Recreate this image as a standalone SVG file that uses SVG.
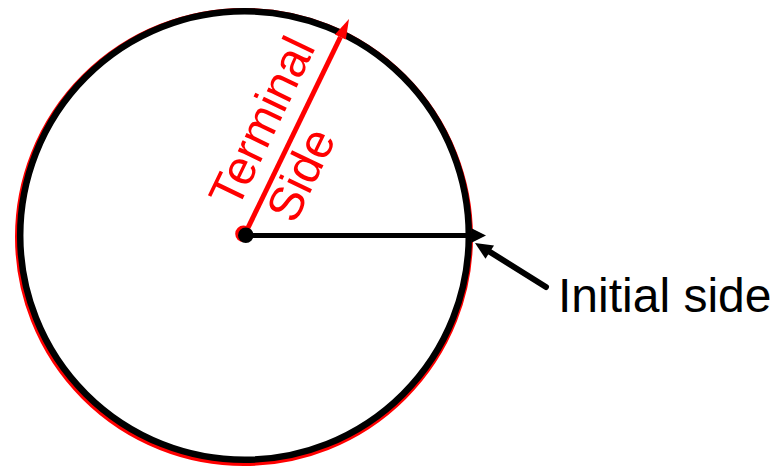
<svg xmlns="http://www.w3.org/2000/svg" width="783" height="467" viewBox="0 0 783 467">
<style>
.lbl{font-family:"Liberation Sans",Arial,sans-serif;font-size:48px}
.red{fill:#FF0000}
.blk{fill:#000000}
</style>
<rect width="783" height="467" fill="#ffffff"/>
<g id="circle">
<circle cx="244" cy="237" r="227" fill="none" stroke="#FF0000" stroke-width="4"/>
<circle cx="244.5" cy="235.5" r="224.3" fill="none" stroke="#000000" stroke-width="6.5"/>
</g>
<g id="connectors">
<line x1="244" y1="236" x2="340.5" y2="37" stroke="#FF0000" stroke-width="5"/>
<polygon points="349,19 345.8,39.6 334.9,34.4" fill="#FF0000"/>
<line x1="246" y1="235.5" x2="474" y2="235.5" stroke="#000000" stroke-width="5"/>
<polygon points="486,235.5 472,228.5 472,242.5" fill="#000000"/>
<line x1="546" y1="287" x2="490" y2="252" stroke="#000000" stroke-width="6" stroke-linecap="round"/>
<polygon points="475,243 494,245.4 485.5,258.8" fill="#000000"/>
</g>
<g id="center">
<circle cx="243.5" cy="233.8" r="8.3" fill="#FF0000"/>
<circle cx="245.8" cy="235.3" r="7.8" fill="#000000"/>
</g>
<g id="terminal-label" transform="translate(244 236) rotate(-64.3)">
<text class="lbl red" x="20" y="-17">Terminal</text>
<text class="lbl red" x="32" y="41">Side</text>
</g>
<g id="initial-label">
<text class="lbl blk" x="558" y="312">Initial side</text>
</g>
</svg>
